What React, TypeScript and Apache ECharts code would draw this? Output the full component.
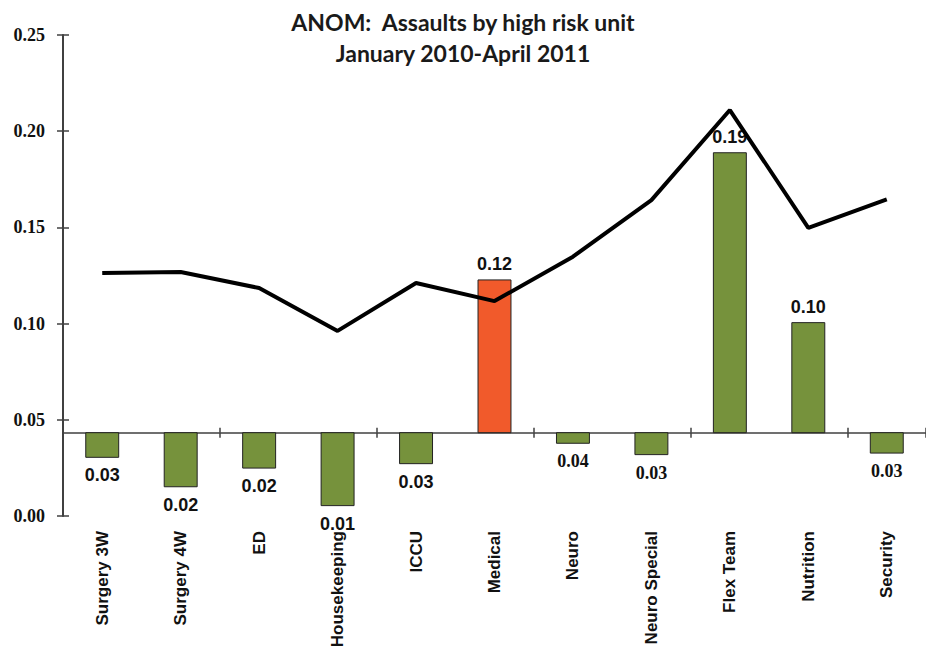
import React, { useEffect, useRef } from "react";
import * as echarts from "echarts";

const TITLE_LINES = ["ANOM:  Assaults by high risk unit", "January 2010-April 2011"];
const CATEGORIES = [
  "Surgery 3W", "Surgery 4W", "ED", "Housekeeping", "ICCU", "Medical",
  "Neuro", "Neuro Special", "Flex Team", "Nutrition", "Security",
];
const VALUES = [0.0305, 0.0152, 0.0249, 0.0054, 0.0272, 0.1227, 0.0378, 0.0319, 0.1888, 0.1005, 0.0327];
const UPPER_LIMIT = [0.1263, 0.1268, 0.1185, 0.0962, 0.1211, 0.1117, 0.1348, 0.1642, 0.211, 0.1498, 0.1646];
const CENTER = 0.0433;
const Y_MIN = 0;
const Y_MAX = 0.25;
const Y_STEP = 0.05;

// style: units whose value label is set in a serif face in the original
const SERIF_LABEL_UNITS = ["Neuro", "Neuro Special", "Security"];

const GREEN = "#76923C";
const ORANGE = "#F15A2B";

export default function App() {
  const ref = useRef<HTMLDivElement>(null);
  useEffect(() => {
    if (!ref.current) return;
    const chart = echarts.init(ref.current, null, { renderer: "svg" });
    const axisColor = "#404040";
    const yLabel = {
      fontFamily: '"Liberation Serif", serif',
      fontWeight: "bold" as const,
      fontSize: 18,
      color: "#111",
      margin: 18,
      formatter: (v: number) => v.toFixed(2),
    };
    chart.setOption({
      animation: false,
      backgroundColor: "#ffffff",
      title: {
        text: TITLE_LINES.join("\n"),
        left: "center",
        top: 1,
        textStyle: {
          fontFamily: "Lato, sans-serif",
          fontWeight: "bold",
          fontSize: 23,
          lineHeight: 31,
          color: "#1a1a1a",
        },
      },
      grid: { left: 63, top: 35, width: 873, height: 481, containLabel: false },
      xAxis: [
        {
          type: "category",
          data: CATEGORIES,
          position: "bottom",
          axisLine: { show: false, onZero: false },
          axisTick: { show: false },
          axisLabel: {
            rotate: 90,
            margin: 15,
            interval: 0,
            fontFamily: '"Liberation Sans", Arial, sans-serif',
            fontWeight: "bold",
            fontSize: 17,
            color: "#111",
          },
        },
        {
          type: "category",
          data: CATEGORIES,
          position: "bottom",
          axisLine: { show: true, onZero: true, onZeroAxisIndex: 1, lineStyle: { color: axisColor, width: 1.5 } },
          axisTick: { show: true, inside: false, length: 5, lineStyle: { color: axisColor, width: 1.5 } },
          axisLabel: { show: false },
        },
        {
          type: "category",
          data: CATEGORIES,
          position: "bottom",
          axisLine: { show: false, onZero: true, onZeroAxisIndex: 1 },
          axisTick: { show: true, inside: true, length: 5, lineStyle: { color: axisColor, width: 1.5 } },
          axisLabel: { show: false },
        },
      ],
      yAxis: [
        {
          type: "value",
          min: Y_MIN,
          max: Y_MAX,
          interval: Y_STEP,
          position: "left",
          axisLine: { show: true, lineStyle: { color: axisColor, width: 2 } },
          axisTick: { show: true, inside: false, length: 6, lineStyle: { color: axisColor, width: 1.5 } },
          splitLine: { show: false },
          axisLabel: yLabel,
        },
        {
          type: "value",
          min: Y_MIN - CENTER,
          max: Y_MAX - CENTER,
          position: "left",
          axisLine: { show: false },
          axisTick: { show: false },
          axisLabel: { show: false },
          splitLine: { show: false },
        },
        {
          type: "value",
          min: Y_MIN,
          max: Y_MAX,
          interval: Y_STEP,
          position: "left",
          axisLine: { show: false },
          axisTick: { show: true, inside: true, length: 6, lineStyle: { color: axisColor, width: 1.5 } },
          axisLabel: { show: false },
          splitLine: { show: false },
        },
      ],
      series: [
        {
          type: "custom",
          xAxisIndex: 0,
          yAxisIndex: 0,
          data: VALUES.map((v, i) => [i, v, UPPER_LIMIT[i]]),
          renderItem: (params: any, api: any) => {
            const i = api.value(0);
            const v = api.value(1);
            const lim = api.value(2);
            const base = api.coord([i, CENTER]);
            const end = api.coord([i, v]);
            const w = api.size([1, 0])[0] * 0.42;
            const up = v >= CENTER;
            const top = Math.min(base[1], end[1]);
            const h = Math.abs(base[1] - end[1]);
            const serif = SERIF_LABEL_UNITS.indexOf(CATEGORIES[i]) >= 0;
            return {
              type: "group",
              children: [
                {
                  type: "rect",
                  shape: { x: base[0] - w / 2, y: top, width: w, height: h },
                  style: { fill: v > lim ? ORANGE : GREEN, stroke: "#222", lineWidth: 1 },
                },
                {
                  type: "text",
                  x: base[0],
                  y: up ? end[1] - 7 : end[1] + 9,
                  style: {
                    text: v.toFixed(2),
                    align: "center",
                    verticalAlign: up ? "bottom" : "top",
                    textAlign: "center",
                    textVerticalAlign: up ? "bottom" : "top",
                    fontFamily: serif ? '"Liberation Serif", serif' : '"Liberation Sans", Arial, sans-serif',
                    fontWeight: "bold",
                    fontSize: 18,
                    fill: "#111",
                  },
                },
              ],
            };
          },
          z: 2,
        },
        {
          type: "line",
          xAxisIndex: 0,
          yAxisIndex: 0,
          data: UPPER_LIMIT,
          symbol: "none",
          lineStyle: { color: "#000000", width: 4 },
          z: 3,
        },
      ],
    });
    return () => chart.dispose();
  }, []);
  return (
    <div
      ref={ref}
      style={{ position: "fixed", left: 0, top: 0, width: 926, height: 659, background: "#fff" }}
    />
  );
}
